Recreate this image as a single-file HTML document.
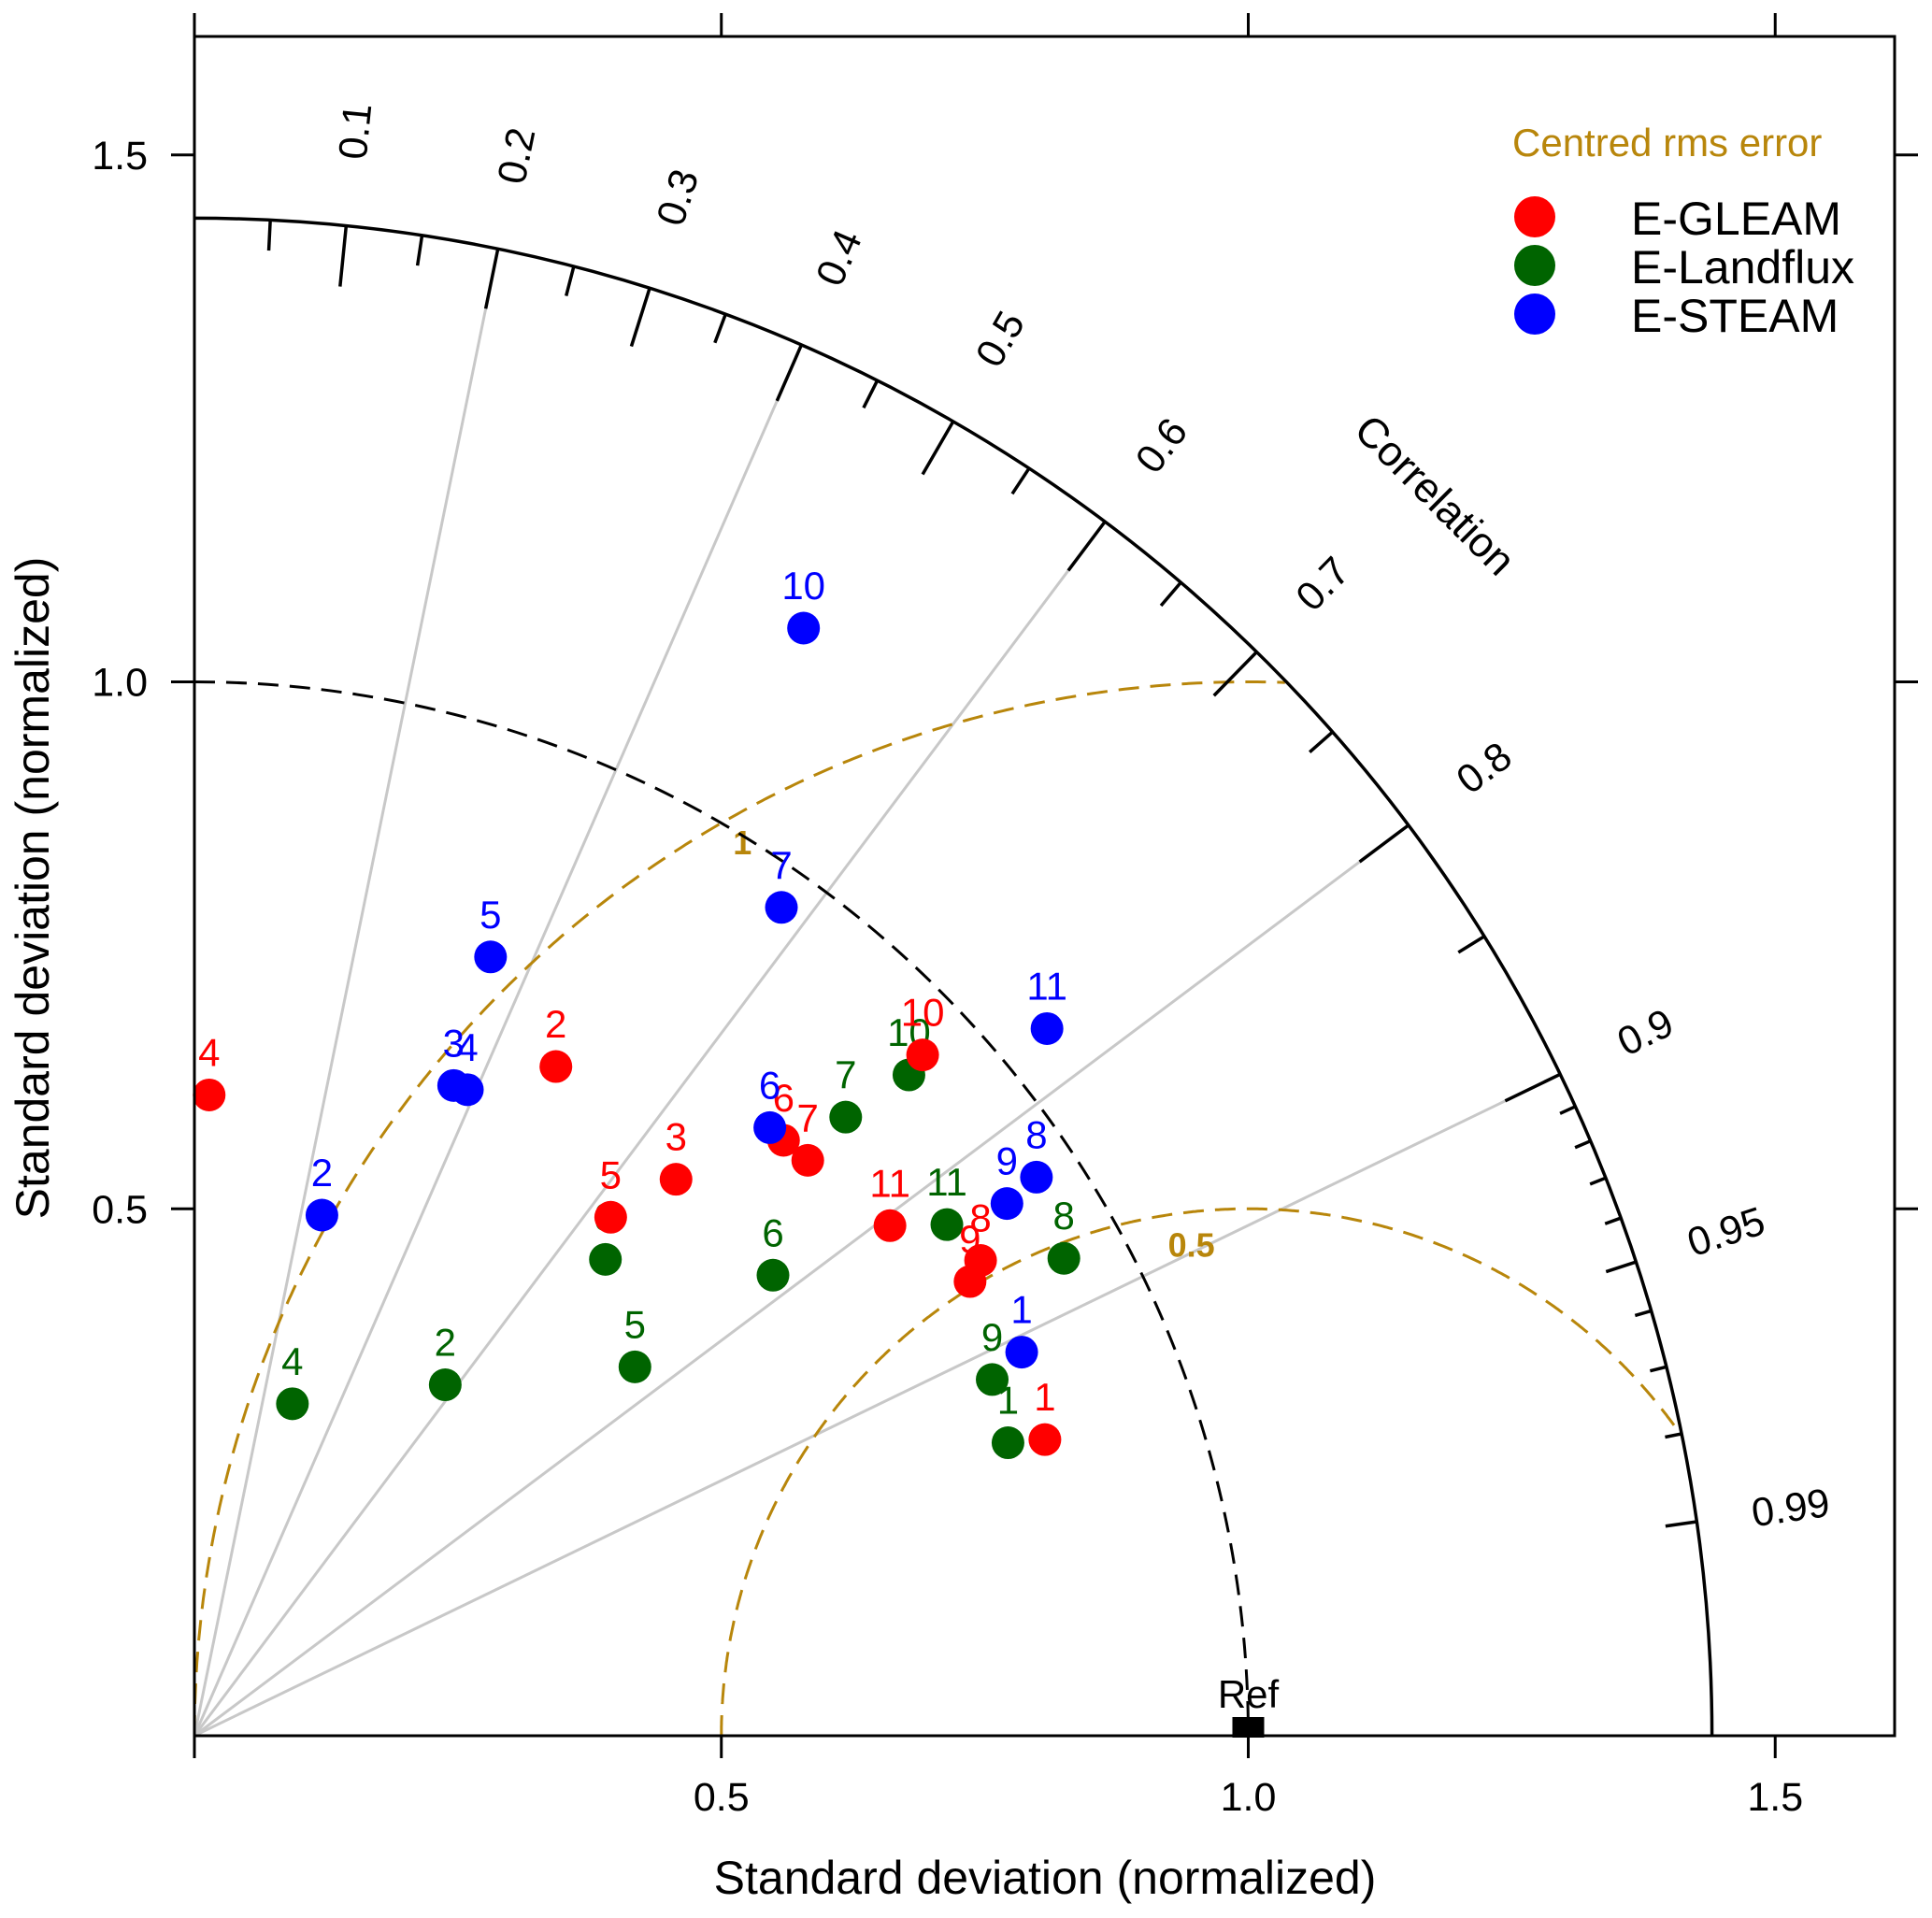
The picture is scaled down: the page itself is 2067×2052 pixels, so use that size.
<!DOCTYPE html>
<html>
<head>
<meta charset="utf-8">
<style>
html,body{margin:0;padding:0;background:#fff;}
svg{display:block;font-family:"Liberation Sans",Arial,sans-serif;}
</style>
</head>
<body>
<svg id="chart" width="2067" height="2052" viewBox="0 0 2067 2052" xmlns="http://www.w3.org/2000/svg">
<rect x="0" y="0" width="2067" height="2052" fill="#fff"/>
<g id="grid"></g>
<g id="marks"></g>
<g id="axes"></g>
</svg>
<script>
// ---- data (normalized x = sd*cor, y = sd*sin) ----
const series = ["E-GLEAM", "E-Landflux", "E-STEAM"];
const seriesColors = ["#ff0000", "#006400", "#0000ff"];
const gleamLabels = ["1","2","3","4","5","6","7","8","9","10","11"];
const gleamX = [0.807,0.343,0.457,0.014,0.395,0.559,0.582,0.746,0.736,0.691,0.660];
const gleamY = [0.281,0.635,0.528,0.608,0.492,0.565,0.546,0.451,0.431,0.646,0.484];
const landLabels = ["1","2","3","4","5","6","7","8","9","10","11"];
const landX = [0.772,0.238,0.390,0.093,0.418,0.549,0.618,0.825,0.757,0.678,0.714];
const landY = [0.278,0.333,0.452,0.315,0.350,0.437,0.587,0.453,0.338,0.627,0.485];
const steamLabels = ["1","2","3","4","5","6","7","8","9","10","11"];
const steamX = [0.785,0.121,0.246,0.259,0.281,0.546,0.557,0.799,0.771,0.578,0.809];
const steamY = [0.364,0.494,0.617,0.613,0.739,0.577,0.786,0.530,0.505,1.051,0.671];
const axisTicks = [0.5, 1.0, 1.5];
const axisTickLabels = ["0.5", "1.0", "1.5"];
const corMajor = [0.1,0.2,0.3,0.4,0.5,0.6,0.7,0.8,0.9,0.95,0.99];
const corMajorLabels = ["0.1","0.2","0.3","0.4","0.5","0.6","0.7","0.8","0.9","0.95","0.99"];
const corMinor = [0.05,0.15,0.25,0.35,0.45,0.55,0.65,0.75,0.85];
const corFine = [0.91,0.92,0.93,0.94,0.96,0.97,0.98];
const corGrid = [0.2,0.4,0.6,0.8,0.9];
const rmsLevels = [0.5, 1.0];
const rmsLevelLabels = ["0.5", "1"];
const sdMax = 1.44;

// ---- scales ----
const OX = 208, OY = 1857, U = 1127.5;
const X = v => OX + v * U;
const Y = v => OY - v * U;
const NS = "http://www.w3.org/2000/svg";
function mk(tag, parent, attrs) {
  const e = document.createElementNS(NS, tag);
  for (const k in attrs) e.setAttribute(k, attrs[k]);
  parent.appendChild(e);
  return e;
}
const grid = document.getElementById('grid');
const marks = document.getElementById('marks');
const axes = document.getElementById('axes');

// gray correlation lines
corGrid.forEach(c => {
  const a = Math.acos(c), r = sdMax - 0.058;
  const l = mk('line', grid, {x1:X(0), y1:Y(0), x2:X(r*Math.cos(a)), y2:Y(r*Math.sin(a)), stroke:'#c8c8c8', 'stroke-width':3});
  
  
});

// rms circles around ref (1,0)
rmsLevels.forEach((rr, i) => {
  let d = '', started = false;
  for (let k = 0; k <= 720; k++) {
    const t = Math.PI - Math.PI * k / 720;
    const x = 1 + rr * Math.cos(t), y = rr * Math.sin(t);
    const ok = Math.hypot(x, y) <= sdMax && x >= 0;
    if (ok) { d += (started ? 'L' : 'M') + X(x).toFixed(1) + ' ' + Y(y).toFixed(1); started = true; }
  }
  const p = mk('path', grid, {d:d, fill:'none', stroke:'#b8860b', 'stroke-width':3, 'stroke-dasharray':'22 12'});
  
  
});
const rmsLabelPos = [[0.946,0.466],[0.520,0.848]];
rmsLevels.forEach((rr, i) => {
  const t = mk('text', grid, {x:X(rmsLabelPos[i][0]), y:Y(rmsLabelPos[i][1])+13, 'font-size':36, 'font-weight':'bold', fill:'#b8860b', 'text-anchor':'middle'});
  t.textContent = rmsLevelLabels[i];
  
  
});

// black dashed sd = 1 arc
{
  const p = mk('path', grid, {d:`M${X(0)} ${Y(1)} A${U} ${U} 0 0 1 ${X(1)} ${Y(0)}`, fill:'none', stroke:'#000', 'stroke-width':3, 'stroke-dasharray':'22 12'});
  
  
}

// outer arc
{
  const p = mk('path', axes, {d:`M${X(0)} ${Y(sdMax)} A${sdMax*U} ${sdMax*U} 0 0 1 ${X(sdMax)} ${Y(0)}`, fill:'none', stroke:'#000', 'stroke-width':3.5});
  
  
}
function corTick(c, len) {
  const a = Math.acos(c);
  const l = mk('line', axes, {x1:X(sdMax*Math.cos(a)), y1:Y(sdMax*Math.sin(a)), x2:X((sdMax-len)*Math.cos(a)), y2:Y((sdMax-len)*Math.sin(a)), stroke:'#000', 'stroke-width':3.5});
  
  
}
corMajor.forEach(c => corTick(c, (c === 0.95 || c === 0.99) ? 0.03 : 0.058));
corMinor.forEach(c => corTick(c, 0.029));
corFine.forEach(c => corTick(c, 0.016));
corMajor.forEach((c, i) => {
  const a = Math.acos(c), r = 1.53;
  const cx = X(r*Math.cos(a)), cy = Y(r*Math.sin(a));
  const t = mk('text', axes, {x:cx, y:cy, 'font-size':43, 'text-anchor':'middle', 'dominant-baseline':'central', transform:`rotate(${-a*180/Math.PI} ${cx} ${cy})`});
  t.textContent = corMajorLabels[i];
  
  
});
{
  const a = Math.PI/4, r = 1.665;
  const cx = X(r*Math.cos(a)), cy = Y(r*Math.sin(a));
  const t = mk('text', axes, {x:cx, y:cy, 'font-size':45, 'text-anchor':'middle', 'dominant-baseline':'central', transform:`rotate(45 ${cx} ${cy})`});
  t.textContent = 'Correlation';
  
  
}

// points
const allX = [gleamX, landX, steamX], allY = [gleamY, landY, steamY], allL = [gleamLabels, landLabels, steamLabels];
[1, 0, 2].forEach(s => {
  allX[s].forEach((v, i) => {
    const c = mk('circle', marks, {cx:X(v), cy:Y(allY[s][i]), r:17.5, fill:seriesColors[s]});
    
    
    const t = mk('text', marks, {x:X(v), y:Y(allY[s][i]) - 31, 'font-size':42, fill:seriesColors[s], 'text-anchor':'middle'});
    t.textContent = allL[s][i];
    
    
  });
});

// ref marker
{
  const r = mk('rect', marks, {x:X(1)-17, y:Y(0)-20, width:34, height:22, fill:'#000'});
  
  
  const t = mk('text', marks, {x:X(1), y:Y(0)-30, 'font-size':42, 'text-anchor':'middle'});
  t.textContent = 'Ref';
  
  
}

// frame and axes
const RIGHT = 2027, TOP = 39;
{
  const b = mk('rect', axes, {x:OX, y:TOP, width:RIGHT-OX, height:OY-TOP, fill:'none', stroke:'#000', 'stroke-width':3});
  
  
}
[0].concat(axisTicks).forEach(v => {
  const l1 = mk('line', axes, {x1:X(v), y1:OY, x2:X(v), y2:OY+24, stroke:'#000', 'stroke-width':3});
  
  
  const l2 = mk('line', axes, {x1:X(v), y1:TOP, x2:X(v), y2:TOP-25, stroke:'#000', 'stroke-width':3});
  
  
});
axisTicks.forEach((v, i) => {
  const l1 = mk('line', axes, {x1:OX, y1:Y(v), x2:OX-25, y2:Y(v), stroke:'#000', 'stroke-width':3});
  
  
  const l2 = mk('line', axes, {x1:RIGHT, y1:Y(v), x2:RIGHT+25, y2:Y(v), stroke:'#000', 'stroke-width':3});
  
  
  const tx = mk('text', axes, {x:X(v), y:OY+80, 'font-size':43, 'text-anchor':'middle'});
  tx.textContent = axisTickLabels[i];
  
  
  const ty = mk('text', axes, {x:158, y:Y(v)+15, 'font-size':43, 'text-anchor':'end'});
  ty.textContent = axisTickLabels[i];
  
  
});
{
  const t = mk('text', axes, {x:1118, y:2026, 'font-size':50, 'text-anchor':'middle'});
  t.textContent = 'Standard deviation (normalized)';
  
  
  const t2 = mk('text', axes, {x:52, y:950, 'font-size':50, 'text-anchor':'middle', transform:'rotate(-90 52 950)'});
  t2.textContent = 'Standard deviation (normalized)';
  
  
}

// legend
{
  const t = mk('text', axes, {x:1618, y:167, 'font-size':42, fill:'#b8860b'});
  t.textContent = 'Centred rms error';
  
  
  const ly = [232, 284, 336];
  series.forEach((s, i) => {
    const c = mk('circle', axes, {cx:1642, cy:ly[i], r:22, fill:seriesColors[i]});
    
    
    const tt = mk('text', axes, {x:1745, y:ly[i]+19, 'font-size':50});
    tt.textContent = s;
    
    
  });
}
</script>
</body>
</html>
